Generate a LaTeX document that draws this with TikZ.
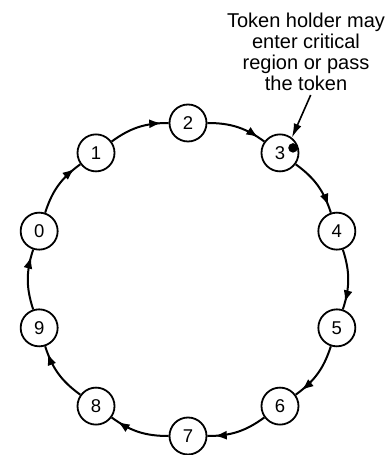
\documentclass[tikz,border=0pt]{standalone}
\usepackage{fontspec}
\setmainfont{Liberation Sans}
\usetikzlibrary{arrows.meta,decorations.markings,calc}
\begin{document}
\begin{tikzpicture}[x=1pt,y=1pt,
  ringnode/.style={circle,draw,line width=1.8pt,minimum size=37pt,inner sep=0pt,font=\fontsize{18.5}{21}\selectfont},
  ringarc/.style={line width=2pt,postaction={decorate},decoration={markings,mark=at position 0.88 with {\arrow{Latex[length=12pt,width=9pt]}}}},
  notetext/.style={align=center,font=\fontsize{20}{21}\selectfont},
  tokendot/.style={circle,fill,minimum size=9.5pt,inner sep=0pt},
]
\useasboundingbox (0,0) rectangle (384,455);
\coordinate (c) at (188,175.5);
\foreach \k in {0,...,9} {
  \pgfmathsetmacro\ang{90-36*(\k-2)}
  \node[ringnode] (n\k) at ($(c)+(\ang:156.5)$) {\k};
}
\foreach \a/\b in {0/1,1/2,2/3,3/4,4/5,5/6,6/7,7/8,8/9,9/0}
  \draw[ringarc] (n\a) to[bend left=18] (n\b);
\node[tokendot] (tok) at ($(n3.center)+(13,5)$) {};
\node[notetext] (note) at (306,403) {Token holder may\\enter critical\\region or pass\\the token};
\coordinate (annstart) at (310.7,360);
\draw[line width=1.6pt,-{Latex[length=14pt,width=8pt]}] (annstart) -- (n3.52);
\end{tikzpicture}
\end{document}
